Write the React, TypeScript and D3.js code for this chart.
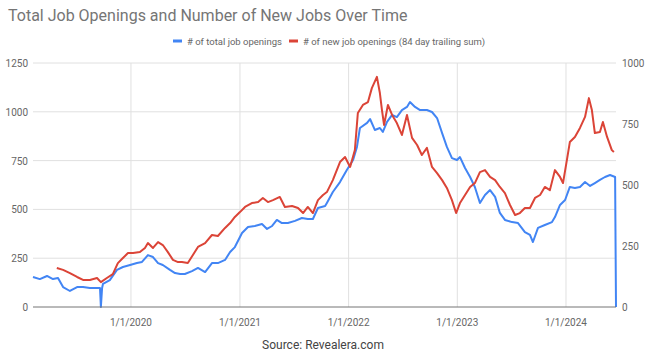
import React, { useRef, useEffect } from 'react';
import * as d3 from 'd3';

// # of total job openings (left axis)
const totalDates = [
  '2019-02-06', '2019-03-01', '2019-03-25', '2019-04-14', '2019-05-01', '2019-05-18', '2019-06-10', '2019-07-04',
  '2019-07-24', '2019-08-16', '2019-09-09', '2019-09-19', '2019-09-22', '2019-09-26', '2019-09-29', '2019-10-22',
  '2019-11-15', '2019-12-05', '2019-12-29', '2020-01-21', '2020-02-07', '2020-02-27', '2020-03-15', '2020-04-01',
  '2020-04-17', '2020-05-11', '2020-05-28', '2020-06-14', '2020-06-30', '2020-07-24', '2020-08-13', '2020-09-06',
  '2020-09-29', '2020-10-19', '2020-11-12', '2020-11-29', '2020-12-15', '2021-01-08', '2021-01-28', '2021-02-20',
  '2021-03-16', '2021-04-02', '2021-04-19', '2021-05-05', '2021-05-22', '2021-06-11', '2021-07-05', '2021-07-28',
  '2021-08-17', '2021-09-03', '2021-09-20', '2021-10-14', '2021-10-20', '2021-11-09', '2021-12-03', '2021-12-26',
  '2022-01-16', '2022-01-29', '2022-02-08', '2022-03-04', '2022-03-14', '2022-03-30', '2022-04-16', '2022-04-26',
  '2022-05-10', '2022-05-27', '2022-06-12', '2022-06-29', '2022-07-16', '2022-07-26', '2022-08-12', '2022-08-29',
  '2022-09-21', '2022-10-08', '2022-10-25', '2022-11-11', '2022-11-27', '2022-12-14', '2022-12-31', '2023-01-10',
  '2023-01-27', '2023-02-13', '2023-03-01', '2023-03-18', '2023-04-04', '2023-04-21', '2023-05-08', '2023-05-24',
  '2023-06-10', '2023-07-04', '2023-07-24', '2023-08-16', '2023-09-02', '2023-09-12', '2023-09-29', '2023-10-22',
  '2023-11-15', '2023-11-25', '2023-12-12', '2023-12-29', '2024-01-14', '2024-01-31', '2024-02-17', '2024-03-05',
  '2024-03-22', '2024-04-07', '2024-04-24', '2024-05-11', '2024-05-28', '2024-06-14', '2024-06-17',
];
const totalValues = [
  154, 143, 159, 143, 149, 102, 82, 102,
  102, 97, 97, 97, 0, 97, 118, 138,
  190, 205, 215, 225, 231, 266, 256, 225,
  215, 190, 174, 169, 169, 184, 200, 179,
  225, 225, 241, 282, 307, 379, 410, 415,
  425, 400, 415, 446, 430, 430, 441, 456,
  451, 451, 507, 517, 533, 589, 640, 702,
  753, 820, 917, 943, 963, 907, 917, 897,
  948, 984, 973, 1009, 1025, 1050, 1025, 1009,
  1009, 999, 968, 891, 820, 763, 753, 768,
  712, 666, 615, 533, 574, 599, 564, 482,
  446, 435, 430, 384, 369, 333, 405, 420,
  435, 461, 523, 548, 615, 610, 615, 640,
  620, 635, 651, 666, 676, 666, 0,
];

// # of new job openings, 84 day trailing sum (right axis)
const newDates = [
  '2019-04-27', '2019-05-18', '2019-06-10', '2019-07-04', '2019-07-24', '2019-08-16', '2019-09-09', '2019-09-22',
  '2019-10-12', '2019-11-01', '2019-11-18', '2019-12-05', '2019-12-22', '2020-01-08', '2020-01-31', '2020-02-17',
  '2020-02-27', '2020-03-15', '2020-04-01', '2020-04-17', '2020-05-04', '2020-05-21', '2020-06-07', '2020-06-20',
  '2020-07-10', '2020-07-27', '2020-08-13', '2020-09-06', '2020-09-29', '2020-10-19', '2020-11-12', '2020-11-29',
  '2020-12-15', '2021-01-01', '2021-01-18', '2021-02-10', '2021-03-03', '2021-03-19', '2021-04-05', '2021-04-22',
  '2021-05-15', '2021-06-01', '2021-06-25', '2021-07-15', '2021-08-01', '2021-08-17', '2021-09-03', '2021-09-20',
  '2021-10-07', '2021-10-20', '2021-11-09', '2021-12-03', '2021-12-20', '2022-01-06', '2022-01-22', '2022-02-01',
  '2022-02-18', '2022-03-07', '2022-03-20', '2022-04-06', '2022-04-16', '2022-04-23', '2022-04-30', '2022-05-13',
  '2022-05-27', '2022-06-12', '2022-06-29', '2022-07-16', '2022-08-02', '2022-08-19', '2022-09-04', '2022-09-21',
  '2022-10-08', '2022-10-25', '2022-11-11', '2022-11-27', '2022-12-14', '2022-12-28', '2023-01-10', '2023-01-27',
  '2023-02-13', '2023-03-01', '2023-03-18', '2023-04-04', '2023-04-21', '2023-05-08', '2023-05-24', '2023-06-10',
  '2023-06-27', '2023-07-14', '2023-07-30', '2023-08-16', '2023-09-02', '2023-09-19', '2023-10-06', '2023-10-22',
  '2023-11-08', '2023-11-25', '2023-12-12', '2023-12-22', '2024-01-04', '2024-01-14', '2024-01-31', '2024-02-17',
  '2024-03-05', '2024-03-18', '2024-03-28', '2024-04-07', '2024-04-24', '2024-05-04', '2024-05-18', '2024-06-03',
  '2024-06-10',
];
const newValues = [
  160, 152, 139, 123, 111, 111, 119, 102,
  119, 135, 180, 201, 221, 221, 225, 242,
  262, 242, 266, 254, 225, 193, 184, 184,
  180, 213, 246, 262, 295, 291, 324, 344,
  369, 389, 410, 426, 430, 447, 430, 438,
  451, 410, 414, 406, 385, 410, 385, 438,
  459, 471, 520, 594, 615, 574, 643, 795,
  828, 840, 897, 943, 877, 807, 746, 828,
  787, 754, 705, 787, 693, 664, 623, 652,
  574, 549, 520, 488, 438, 385, 426, 459,
  492, 508, 553, 561, 533, 520, 492, 467,
  418, 377, 385, 406, 406, 447, 459, 492,
  479, 561, 533, 508, 602, 676, 697, 734,
  779, 856, 807, 713, 717, 758, 697, 643,
  635,
];

const leftTicks = [0, 250, 500, 750, 1000, 1250];
const rightTicks = [0, 250, 500, 750, 1000];
const yearTicks = ['2020-01-01', '2021-01-01', '2022-01-01', '2023-01-01', '2024-01-01'];

const seriesNames = ['# of total job openings', '# of new job openings (84 day trailing sum)'];
const seriesColors = ['#4285f4', '#db4437'];

const App: React.FC = () => {
  const svgRef = useRef<SVGSVGElement>(null);

  useEffect(() => {
    const width = 646;
    const height = 354;
    const margin = { top: 63, right: 30, bottom: 47, left: 33 };
    const font = 'Roboto, Arial, sans-serif';

    const svg = d3.select(svgRef.current);
    svg.selectAll('*').remove();
    svg.attr('width', width).attr('height', height).style('font-family', font);

    const parse = d3.timeParse('%Y-%m-%d');
    const total = totalDates.map((d, i) => ({ date: parse(d) as Date, value: totalValues[i] }));
    const fresh = newDates.map((d, i) => ({ date: parse(d) as Date, value: newValues[i] }));

    const xScale = d3
      .scaleTime()
      .domain(d3.extent(total, (d) => d.date) as [Date, Date])
      .range([margin.left, width - margin.right]);

    const yLeft = d3.scaleLinear().domain([0, 1250]).range([height - margin.bottom, margin.top]);
    const yRight = d3.scaleLinear().domain([0, 1000]).range([height - margin.bottom, margin.top]);

    svg.append('rect').attr('width', width).attr('height', height).attr('fill', 'white');

    // gridlines
    svg
      .append('g')
      .selectAll('line')
      .data(leftTicks.filter((t) => t > 0))
      .join('line')
      .attr('x1', margin.left)
      .attr('x2', width - margin.right)
      .attr('y1', (d) => yLeft(d))
      .attr('y2', (d) => yLeft(d))
      .attr('stroke', '#e0e0e0')
      .attr('stroke-width', 1);

    svg
      .append('g')
      .selectAll('line')
      .data(yearTicks)
      .join('line')
      .attr('x1', (d) => xScale(parse(d) as Date))
      .attr('x2', (d) => xScale(parse(d) as Date))
      .attr('y1', margin.top)
      .attr('y2', height - margin.bottom)
      .attr('stroke', '#e0e0e0')
      .attr('stroke-width', 1);

    // left axis labels
    svg
      .append('g')
      .selectAll('text')
      .data(leftTicks)
      .join('text')
      .attr('x', margin.left - 5)
      .attr('y', (d) => yLeft(d) + 4)
      .attr('text-anchor', 'end')
      .attr('font-size', '10px')
      .attr('fill', '#666')
      .text((d) => d);

    // right axis labels
    svg
      .append('g')
      .selectAll('text')
      .data(rightTicks)
      .join('text')
      .attr('x', width - margin.right + 6)
      .attr('y', (d) => yRight(d) + 4)
      .attr('text-anchor', 'start')
      .attr('font-size', '10px')
      .attr('fill', '#666')
      .text((d) => d);

    // x axis labels
    const fmt = d3.timeFormat('%-m/%-d/%Y');
    svg
      .append('g')
      .selectAll('text')
      .data(yearTicks)
      .join('text')
      .attr('x', (d) => xScale(parse(d) as Date))
      .attr('y', height - margin.bottom + 19)
      .attr('text-anchor', 'middle')
      .attr('font-size', '10px')
      .attr('fill', '#666')
      .text((d) => fmt(parse(d) as Date));

    // lines
    const lineLeft = d3
      .line<{ date: Date; value: number }>()
      .x((d) => xScale(d.date))
      .y((d) => yLeft(d.value));
    const lineRight = d3
      .line<{ date: Date; value: number }>()
      .x((d) => xScale(d.date))
      .y((d) => yRight(d.value));

    svg
      .append('path')
      .datum(total)
      .attr('fill', 'none')
      .attr('stroke', seriesColors[0])
      .attr('stroke-width', 2)
      .attr('stroke-linejoin', 'round')
      .attr('d', lineLeft);

    svg
      .append('path')
      .datum(fresh)
      .attr('fill', 'none')
      .attr('stroke', seriesColors[1])
      .attr('stroke-width', 2)
      .attr('stroke-linejoin', 'round')
      .attr('d', lineRight);

    // baseline
    svg
      .append('line')
      .attr('x1', margin.left)
      .attr('x2', width - margin.right)
      .attr('y1', yLeft(0))
      .attr('y2', yLeft(0))
      .attr('stroke', '#757575')
      .attr('stroke-width', 1);

    // title
    svg
      .append('text')
      .attr('x', 8)
      .attr('y', 21)
      .attr('font-size', '16px')
      .attr('fill', '#757575')
      .text('Total Job Openings and Number of New Jobs Over Time');

    // legend
    const legendX = [173, 289];
    const legend = svg.append('g');
    legend
      .selectAll('rect')
      .data(seriesNames)
      .join('rect')
      .attr('x', (d, i) => legendX[i])
      .attr('y', 39.5)
      .attr('width', 9)
      .attr('height', 3)
      .attr('fill', (d, i) => seriesColors[i]);
    legend
      .selectAll('text')
      .data(seriesNames)
      .join('text')
      .attr('x', (d, i) => legendX[i] + 14)
      .attr('y', 44.5)
      .attr('font-size', '9.5px')
      .attr('fill', '#666')
      .text((d) => d);

    // source
    svg
      .append('text')
      .attr('x', width / 2)
      .attr('y', 349)
      .attr('text-anchor', 'middle')
      .attr('font-size', '12px')
      .attr('fill', '#444')
      .text('Source: Revealera.com');
  }, []);

  return (
    <div style={{ position: 'absolute', left: 0, top: 0 }}>
      <svg ref={svgRef} style={{ display: 'block' }} />
    </div>
  );
};

export default App;
